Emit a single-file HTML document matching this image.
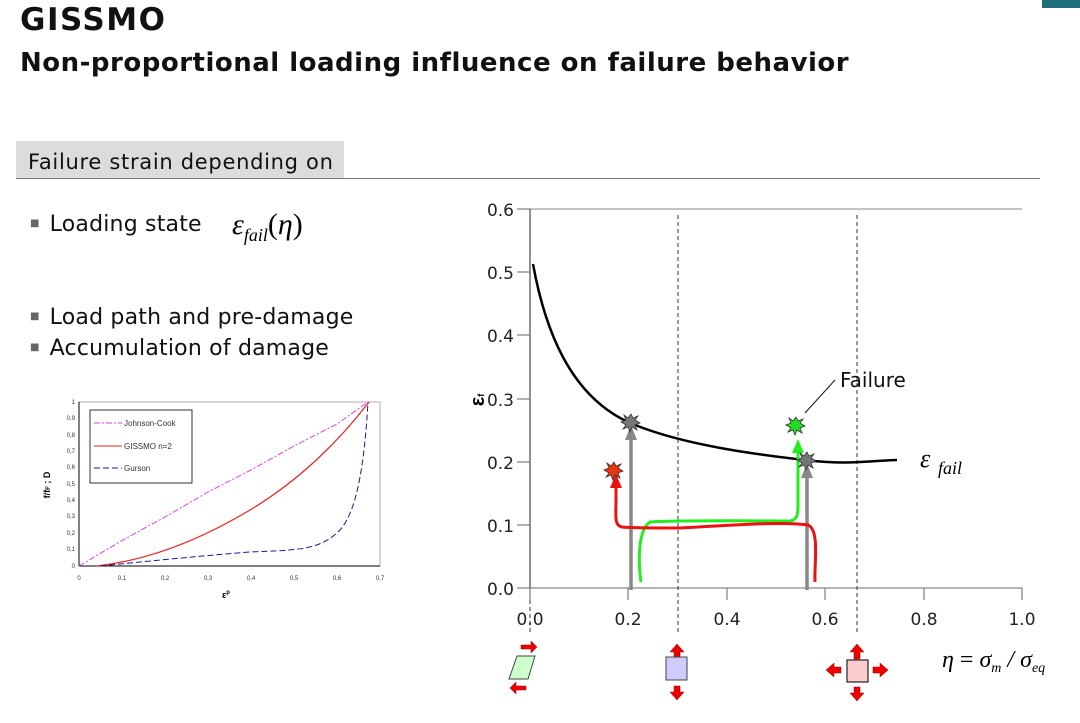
<!DOCTYPE html>
<html><head><meta charset="utf-8"><style>
body{margin:0;width:1080px;height:723px;background:#fff;overflow:hidden;font-family:"DejaVu Sans",sans-serif;position:relative}
.t{position:absolute;white-space:nowrap;color:#000}
.b{font-size:10px;color:#666;vertical-align:5px;margin-right:10px}
</style></head><body>
<div style="position:absolute;left:1042px;top:0;width:38px;height:8px;background:#1f6f7a"></div>
<div class="t" style="left:20px;top:2px;font-size:31px;font-weight:bold;color:#111;letter-spacing:1.5px">GISSMO</div>
<div class="t" style="left:20px;top:48px;font-size:26px;font-weight:bold;color:#111;letter-spacing:0.5px">Non-proportional loading influence on failure behavior</div>
<div style="position:absolute;left:16px;top:141px;width:328px;height:37px;background:#dcdcdc"></div>
<div class="t" style="left:28px;top:150px;font-size:21px;color:#111;letter-spacing:0.7px">Failure strain depending on</div>
<div style="position:absolute;left:16px;top:178px;width:1024px;height:1px;background:#777"></div>
<div class="t" style="left:30px;top:212px;font-size:22px;color:#111;letter-spacing:0.2px"><span class="b">■</span>Loading state</div>
<div class="t" style="left:232px;top:208px;font-size:30px;font-family:'Liberation Serif',serif;font-style:italic">ε<sub style="font-size:18px">fail</sub><span style="font-style:normal">(</span>η<span style="font-style:normal">)</span></div>
<div class="t" style="left:30px;top:305px;font-size:22px;color:#111;letter-spacing:0.2px"><span class="b">■</span>Load path and pre-damage</div>
<div class="t" style="left:30px;top:336px;font-size:22px;color:#111;letter-spacing:0.2px"><span class="b">■</span>Accumulation of damage</div>

<svg style="position:absolute;left:0;top:0" width="1080" height="723" font-family="Liberation Sans, sans-serif">
<rect x="79" y="402" width="301" height="164" fill="none" stroke="#999" stroke-width="0.8"/>
<g font-size="6" fill="#333" text-anchor="end">
<text x="75" y="404">1</text><text x="75" y="420">0,9</text><text x="75" y="437">0,8</text><text x="75" y="453">0,7</text><text x="75" y="469">0,6</text><text x="75" y="486">0,5</text><text x="75" y="502">0,4</text><text x="75" y="518">0,3</text><text x="75" y="535">0,2</text><text x="75" y="551">0,1</text><text x="75" y="568">0</text>
</g>
<g font-size="6" fill="#333" text-anchor="middle">
<text x="79" y="580">0</text><text x="122" y="580">0,1</text><text x="165" y="580">0,2</text><text x="208" y="580">0,3</text><text x="251" y="580">0,4</text><text x="294" y="580">0,5</text><text x="337" y="580">0,6</text><text x="380" y="580">0,7</text>
</g>
<line x1="79" y1="402" x2="79" y2="566" stroke="#000" stroke-width="1"/>
<line x1="79" y1="566" x2="380" y2="566" stroke="#000" stroke-width="1"/>
<text x="50" y="485" font-size="9" font-weight="bold" transform="rotate(-90 50 485)" text-anchor="middle">f/f<tspan font-size="6">F</tspan> ; D</text>
<text x="222" y="598" font-size="9" font-weight="bold">ε<tspan font-size="6" dy="-4">p</tspan></text>
<polyline points="79,566 123,540 165,517 208,492 251,470 294,446 337,424 368,402" fill="none" stroke="#e63fe6" stroke-width="1" stroke-dasharray="6,2,2,2"/>
<path d="M97,566 C150,560 200,540 250,510 C300,480 340,440 369,402" fill="none" stroke="#ee2222" stroke-width="1.2"/>
<path d="M100,566 C160,560 200,556 250,552 C300,550 320,550 340,530 C356,512 364,470 368,402" fill="none" stroke="#1a1a99" stroke-width="1" stroke-dasharray="6,3"/>
<rect x="90" y="410" width="102" height="73" fill="#fff" stroke="#000" stroke-width="0.8"/>
<line x1="94" y1="423" x2="122" y2="423" stroke="#e63fe6" stroke-dasharray="6,2,2,2"/>
<text x="124" y="426" font-size="8" fill="#333">Johnson-Cook</text>
<line x1="94" y1="446" x2="122" y2="446" stroke="#ee2222"/>
<text x="124" y="449" font-size="8" fill="#333">GISSMO n=2</text>
<line x1="94" y1="468" x2="122" y2="468" stroke="#1a1a99" stroke-dasharray="6,3"/>
<text x="124" y="471" font-size="8" fill="#333">Gurson</text>

<line x1="530" y1="209" x2="1022" y2="209" stroke="#888" stroke-width="1"/>
<line x1="530" y1="209" x2="530" y2="590" stroke="#222" stroke-width="1"/>
<line x1="530" y1="588" x2="1022" y2="588" stroke="#888" stroke-width="1.2"/>
<g stroke="#666" stroke-width="1">
<line x1="517" y1="209" x2="530" y2="209"/><line x1="517" y1="272" x2="530" y2="272"/><line x1="517" y1="335" x2="530" y2="335"/><line x1="517" y1="399" x2="530" y2="399"/><line x1="517" y1="462" x2="530" y2="462"/><line x1="517" y1="525" x2="530" y2="525"/><line x1="517" y1="588" x2="530" y2="588"/>
<line x1="530" y1="588" x2="530" y2="600"/><line x1="628" y1="588" x2="628" y2="600"/><line x1="727" y1="588" x2="727" y2="600"/><line x1="825" y1="588" x2="825" y2="600"/><line x1="924" y1="588" x2="924" y2="600"/><line x1="1022" y1="588" x2="1022" y2="600"/>
</g>
<g font-size="17" fill="#222" text-anchor="end" font-family="DejaVu Sans, sans-serif">
<text x="514" y="216">0.6</text><text x="514" y="279">0.5</text><text x="514" y="342">0.4</text><text x="514" y="406">0.3</text><text x="514" y="469">0.2</text><text x="514" y="532">0.1</text><text x="514" y="595">0.0</text>
</g>
<g font-size="17" fill="#222" text-anchor="middle" font-family="DejaVu Sans, sans-serif">
<text x="530" y="625">0.0</text><text x="628" y="625">0.2</text><text x="727" y="625">0.4</text><text x="825" y="625">0.6</text><text x="924" y="625">0.8</text><text x="1022" y="625">1.0</text>
</g>
<text x="484" y="400" font-size="20" font-weight="bold" transform="rotate(-90 484 400)" text-anchor="middle">ε<tspan font-size="9">f</tspan></text>
<g stroke="#333" stroke-width="1" stroke-dasharray="4,3">
<line x1="530" y1="600" x2="530" y2="632"/>
<line x1="678" y1="215" x2="678" y2="632"/>
<line x1="857" y1="215" x2="857" y2="632"/>
</g>
<path d="M533,264 C545,330 570,395 628,422 C680,445 760,455 805,460 C830,463 845,463 860,462 C880,461 890,460 897,460" fill="none" stroke="#000" stroke-width="2.5"/>
<text x="920" y="467" font-size="26" font-style="italic" font-family="Liberation Serif, serif">ε</text>
<text x="938" y="474" font-size="18" font-style="italic" font-family="Liberation Serif, serif">fail</text>
<text x="840" y="387" font-size="20" fill="#111" font-family="DejaVu Sans, sans-serif">Failure</text>
<line x1="835" y1="380" x2="805" y2="413" stroke="#111" stroke-width="1"/>
<g stroke="#888" stroke-width="3.5" fill="#888">
<line x1="631" y1="590" x2="631" y2="438"/><polygon points="625,440 637,440 631,425" stroke="none"/>
<line x1="807" y1="590" x2="807" y2="476"/><polygon points="801,478 813,478 807,463" stroke="none"/>
</g>
<path d="M641,582 C638,560 638,530 650,522 C680,520 760,521 790,521 C797,520 798,515 798,505 L798,450" fill="none" stroke="#22ee22" stroke-width="3"/>
<polygon points="792,453 804,453 798,439" fill="#22ee22"/>
<path d="M815,582 C814,565 820,530 808,525 C780,521 720,526 680,528 C650,528 630,528 622,527 C614,526 616,515 616,500 L616,485" fill="none" stroke="#ee1111" stroke-width="3"/>
<polygon points="610,488 622,488 616,474" fill="#ee1111"/>
<g stroke="#333" stroke-width="0.8">
<polygon points="631,414 633,418 638,416 635,420 640,423 635,425 637,430 632,427 630,432 628,427 623,429 626,425 621,422 626,420 624,415 628,418" fill="#777"/>
<polygon points="807,452 809,456 814,454 811,458 816,461 811,463 813,468 808,465 806,470 804,465 799,467 802,463 797,460 802,458 800,453 804,456" fill="#777"/>
<polygon points="796,417 798,421 803,419 800,423 805,426 800,428 802,433 797,430 795,435 793,430 788,432 791,428 786,425 791,423 789,418 793,421" fill="#22dd22"/>
<polygon points="614,462 616,466 621,464 618,468 623,471 618,473 620,478 615,475 613,480 611,475 606,477 609,473 604,470 609,468 607,463 611,466" fill="#ee3311"/>
</g>
<g fill="#ee0000" stroke="#900" stroke-width="0.5">
<polygon points="521,645 531,645 531,641 537,647 531,653 531,649 521,649"/>
<polygon points="526,686 516,686 516,682 510,688 516,694 516,690 526,690"/>
<polygon points="674,660 674,652 670,652 677,644 684,652 680,652 680,660"/>
<polygon points="674,686 674,692 670,692 677,700 684,692 680,692 680,686"/>
<polygon points="854,659 854,652 850,652 857,644 864,652 860,652 860,659"/>
<polygon points="854,687 854,693 850,693 857,701 864,693 860,693 860,687"/>
<polygon points="841,667 834,667 834,663 826,670 834,677 834,673 841,673"/>
<polygon points="873,667 880,667 880,663 888,670 880,677 880,673 873,673"/>
</g>
<polygon points="517,656 535,656 528,679 509,679" fill="#ccffcc" stroke="#444" stroke-width="1"/>
<rect x="666" y="657" width="21" height="23" fill="#ccccff" stroke="#444" stroke-width="1"/>
<rect x="847" y="660" width="21" height="22" fill="#ffcccc" stroke="#222" stroke-width="1.2"/>
<text x="942" y="667" font-size="24" font-style="italic" font-family="Liberation Serif, serif">η <tspan font-style="normal">=</tspan> σ<tspan font-size="14" dy="5">m</tspan><tspan dy="-5"> / σ</tspan><tspan font-size="14" dy="5">eq</tspan></text>
</svg>
</body></html>
